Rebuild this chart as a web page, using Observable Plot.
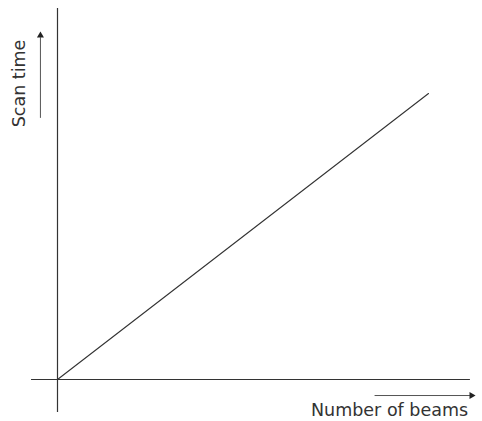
<!DOCTYPE html>
<html><head><meta charset="utf-8">
<script src="https://cdn.jsdelivr.net/npm/d3@7"></script>
<script src="https://cdn.jsdelivr.net/npm/@observablehq/plot@0.6"></script>
<style>
  html,body{margin:0;padding:0;background:#fff;}
  svg{display:block;}
</style>
</head><body>
<div id="chart"></div>
<script>
// Schematic data: scan time grows linearly with number of beams
const beams = [0, 100];
const scanTime = [0, 100];
const xLabel = "Number of beams";
const yLabel = "Scan time";

const data = beams.map((b, i) => ({beams: b, scan: scanTime[i]}));

// axis line extents (data units)
const xAxisSpan = [-7, 111.3];
const yAxisSpan = [-11.5, 129.7];

const ink = "#333";
const font = "DejaVu Sans, sans-serif";

const chart = Plot.plot({
  width: 482,
  height: 421,
  marginLeft: 57,
  marginRight: 54,
  marginTop: 93,
  marginBottom: 42,
  x: {domain: [0, 100], axis: null},
  y: {domain: [0, 100], axis: null},
  style: {fontFamily: font, color: ink, background: "#fff"},
  marks: [
    // axes
    Plot.ruleY([0], {x1: xAxisSpan[0], x2: xAxisSpan[1], stroke: ink, strokeWidth: 1.2}),
    Plot.ruleX([0], {y1: yAxisSpan[0], y2: yAxisSpan[1], stroke: ink, strokeWidth: 1.2}),
    // the relationship
    Plot.line(data, {x: "beams", y: "scan", stroke: ink, strokeWidth: 1.1}),
    // y label + arrow
    Plot.text([yLabel], {x: -10.2, y: 103.5, rotate: -90, fontSize: 17.5, fill: ink, fontFamily: font}),
    Plot.ruleX([-4.6], {y1: 91.3, y2: 119.5, stroke: "#555", strokeWidth: 1}),
    Plot.dot([[-4.6, 120.3]], {x: d => d[0], y: d => d[1], symbol: "triangle", r: 2.6, fill: "#222", stroke: "none"}),
    // x label + arrow
    Plot.text([xLabel], {x: 89.5, y: -10.9, fontSize: 17.5, fill: ink, fontFamily: font}),
    Plot.ruleY([-5.6], {x1: 85.6, x2: 111.3, stroke: "#555", strokeWidth: 1}),
    Plot.dot([[111.6, -5.6]], {x: d => d[0], y: d => d[1], symbol: "triangle", rotate: 90, r: 2.6, fill: "#222", stroke: "none"})
  ]
});
document.getElementById("chart").appendChild(chart);
</script>
</body></html>
